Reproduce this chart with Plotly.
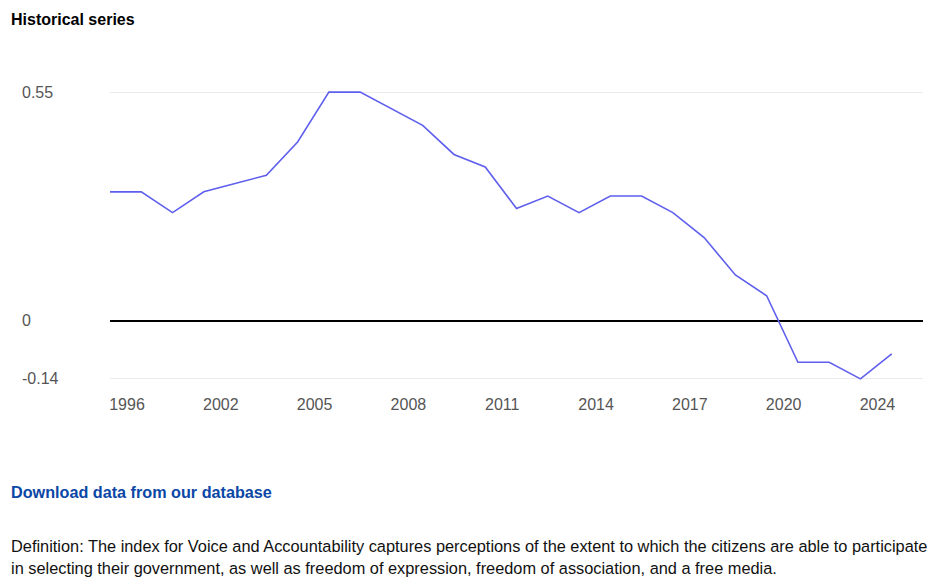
import plotly.graph_objects as go

# ---- data ----
years = [1996, 1998, 2000] + list(range(2002, 2025))
values = [0.31, 0.31, 0.26, 0.31, 0.33, 0.35, 0.43, 0.55, 0.55, 0.51,
          0.47, 0.40, 0.37, 0.27, 0.30, 0.26, 0.30, 0.30, 0.26, 0.20,
          0.11, 0.06, -0.10, -0.10, -0.14, -0.08]
x_tick_labels = ["1996", "2002", "2005", "2008", "2011", "2014", "2017", "2020", "2024"]
y_tick_values = [-0.14, 0, 0.55]
y_tick_labels = ["-0.14", "0", "0.55"]

title_text = "Historical series"
link_text = "Download data from our database"
definition_lines = [
    "Definition: The index for Voice and Accountability captures perceptions of the extent to which the citizens are able to participate",
    "in selecting their government, as well as freedom of expression, freedom of association, and a free media.",
]

W, H = 932, 583
ML, MR, MT, MB = 110, 9, 90, 202
PW = W - ML - MR
PH = H - MT - MB
FONT = "Liberation Sans, Arial, sans-serif"
FS = 16


def px_x(px):
    return (px - ML) / PW


def px_y(py):
    return 1 - (py - MT) / PH


cats = [str(y) for y in years]
tick_cats = cats[0::3]

fig = go.Figure()
fig.add_trace(go.Scatter(
    x=cats, y=values, mode="lines",
    line=dict(color="#5f5fee", width=1.6),
    hoverinfo="x+y", showlegend=False,
))

annotations = [
    dict(text="<b>%s</b>" % title_text, x=px_x(9), y=px_y(19), xref="paper", yref="paper",
         xanchor="left", yanchor="middle", showarrow=False,
         font=dict(family=FONT, size=FS, color="#000000")),
    dict(text="<b>%s</b>" % link_text, x=px_x(9), y=px_y(492), xref="paper", yref="paper",
         xanchor="left", yanchor="middle", showarrow=False,
         font=dict(family=FONT, size=16.2, color="#0b47a6")),
]
for i, line in enumerate(definition_lines):
    annotations.append(dict(text=line, x=px_x(9), y=px_y(546 + 22 * i), xref="paper", yref="paper",
                            xanchor="left", yanchor="middle", showarrow=False,
                            font=dict(family=FONT, size=16.35, color="#111111")))
for v, t in zip(y_tick_values, y_tick_labels):
    annotations.append(dict(text=t, x=px_x(20), y=v, xref="paper", yref="y",
                            xanchor="left", yanchor="middle", showarrow=False,
                            font=dict(family=FONT, size=FS, color="#555555")))

fig.update_layout(
    width=W, height=H,
    margin=dict(l=ML, r=MR, t=MT, b=MB),
    paper_bgcolor="white", plot_bgcolor="white",
    font=dict(family=FONT, size=FS, color="#555555"),
    annotations=annotations,
    xaxis=dict(
        type="category", range=[0, 26],
        tickmode="array", tickvals=tick_cats, ticktext=x_tick_labels,
        showgrid=False, zeroline=False, showline=False, ticks="",
        ticklabelshift=17, ticklabelstandoff=12,
        tickfont=dict(family=FONT, size=FS, color="#555555"),
    ),
    yaxis=dict(
        range=[-0.145, 0.555],
        tickmode="array", tickvals=y_tick_values, showticklabels=False,
        showgrid=True, gridcolor="#ebebeb", gridwidth=1,
        zeroline=True, zerolinecolor="#000000", zerolinewidth=1.5,
        showline=False, ticks="",
    ),
    hovermode="closest",
)

fig.write_html("out.html")
